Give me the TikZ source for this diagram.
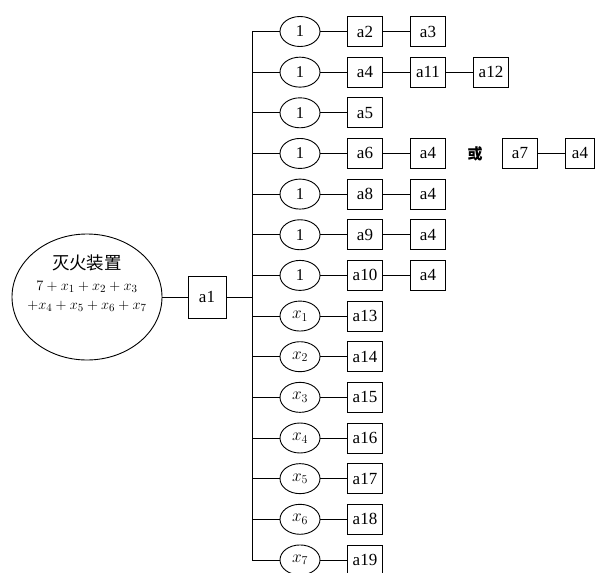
\documentclass[tikz,border=0pt]{standalone}
\usepackage{fontspec}
\setmainfont{Liberation Serif}
\newfontfamily\cjk{Noto Sans CJK SC}
\usetikzlibrary{shapes.geometric,calc}
\begin{document}
\begin{tikzpicture}[x=1pt,y=-1pt,line width=0.9pt,
  ov/.style={draw, ellipse, minimum width=40pt, minimum height=30pt, inner sep=0pt, font=\fontsize{16.5}{16.5}\selectfont},
  bx/.style={draw, rectangle, minimum width=35pt, minimum height=30pt, inner sep=0pt, font=\fontsize{17}{17}\selectfont},
  txt/.style={inner sep=0pt, font=\fontsize{15.5}{15.5}\selectfont}]
\useasboundingbox (0,0) rectangle (595,573);
% main ellipse
\node[draw, ellipse, minimum width=150pt, minimum height=126pt, inner sep=0pt] (E) at (87,297) {};
\node[txt, font=\cjk\fontsize{17.5}{17.5}\selectfont] (t1) at (87,263) {灭火装置};
\node[txt] (t2) at (87,287) {$7+x_{1}+x_{2}+x_{3}$};
\node[txt] (t3) at (87,306) {$+x_{4}+x_{5}+x_{6}+x_{7}$};
\node[bx, minimum width=38pt, minimum height=42pt] (a1) at (207,297) {a1};
\draw (E.east) -- (E.east -| a1.west);
% rows
\foreach \i in {1,...,14}{
  \pgfmathsetmacro{\yy}{31.5+(\i-1)*40.65}
  \coordinate (j\i) at (252,\yy);
}
\draw (j1) -- (j14);
\draw (a1.east) -- (a1.east -| j1);
% upper rows
\foreach \i in {1,...,7}{
  \node[ov] (c\i) at ($(j\i)+(48,0)$) {1};
}
\foreach \i in {1,...,14}{
  \pgfmathsetmacro{\yy}{31.5+(\i-1)*40.65}
  \coordinate (p\i) at (365,\yy);
  \coordinate (q\i) at (428,\yy);
}
\node[bx] (b1) at (p1) {a2};
\node[bx] (d1) at (q1) {a3};
\node[bx] (b2) at (p2) {a4};
\node[bx] (d2) at (q2) {a11};
\node[bx] (e2) at ($(q2)+(63,0)$) {a12};
\node[bx] (b3) at (p3) {a5};
\node[bx] (b4) at (p4) {a6};
\node[bx] (d4) at (q4) {a4};
\node[txt, font=\cjk\bfseries\fontsize{15}{15}\selectfont] (or) at ($(q4)+(47,0)$) {或};
\node[bx] (f4) at ($(q4)+(92,0)$) {a7};
\node[bx, minimum width=29pt] (g4) at ($(q4)+(152,0)$) {a4};
\node[bx] (b5) at (p5) {a8};
\node[bx] (d5) at (q5) {a4};
\node[bx] (b6) at (p6) {a9};
\node[bx] (d6) at (q6) {a4};
\node[bx] (b7) at (p7) {a10};
\node[bx] (d7) at (q7) {a4};
\foreach \k [evaluate=\k as \i using int(\k+7), evaluate=\k as \n using int(\k+12)] in {1,...,7}{
  \node[ov] (c\i) at ($(j\i)+(48,0)$) {$x_{\k}$};
  \node[bx] (b\i) at (p\i) {a\n};
}
\foreach \i in {1,...,14}{
  \draw (j\i) -- (c\i.west);
  \draw (c\i.east) -- (b\i.west);
}
\foreach \i in {1,2,4,5,6,7}{
  \draw (b\i.east) -- (d\i.west);
}
\draw (d2.east) -- (e2.west);
\draw (f4.east) -- (g4.west);
\end{tikzpicture}
\end{document}
